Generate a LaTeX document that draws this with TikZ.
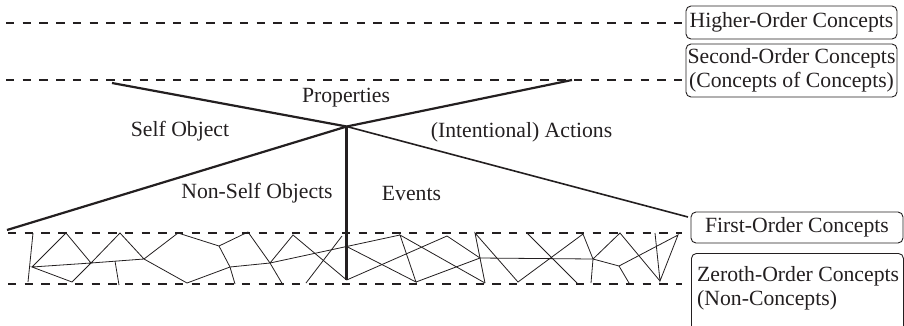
\documentclass[tikz,border=0pt]{standalone}
\usepackage{fontspec}
\setmainfont{Liberation Serif}
\definecolor{ink}{RGB}{35,31,32}
\begin{document}
\begin{tikzpicture}[x=1pt,y=-1pt,
  dashln/.style={draw=ink,line width=1.8pt,dash pattern=on 8.4pt off 8.3pt},
  mainln/.style={draw=ink,line width=2.2pt},
  vertln/.style={draw=ink,line width=2.8pt},
  sideln/.style={draw=ink,line width=1.6pt},
  mesh/.style={draw=ink,line width=0.8pt},
  cbox/.style={draw=ink,line width=0.9pt,rounded corners=5pt,inner sep=0pt},
  lbl/.style={text=ink,font=\fontsize{21.7}{24}\selectfont,inner sep=0pt}]
\useasboundingbox (0,0) rectangle (904,325);
% dashed level lines
\coordinate (d1a) at (6,23);   \coordinate (d1b) at (682,23);
\coordinate (d2a) at (6,80);   \coordinate (d2b) at (682,80);
\coordinate (d3a) at (8,233);  \coordinate (d3b) at (682,233);
\coordinate (d4a) at (8,284);  \coordinate (d4b) at (682,284);
\draw[dashln] (d1a) -- (d1b);
\draw[dashln] (d2a) -- (d2b);
\draw[dashln] (d3a) -- (d3b);
\draw[dashln] (d4a) -- (d4b);
% main structure
\coordinate (apex) at (346.7,126.5);
\coordinate (tl) at (112,83);
\coordinate (tr) at (572,80);
\coordinate (bl) at (7,230);
\coordinate (fo) at (688,217);
\coordinate (p) at (346.7,280);
\draw[mainln] (tl) -- (apex) -- (tr);
\draw[mainln] (bl) -- (apex);
\draw[sideln] (apex) -- (fo);
% mesh points
\coordinate (a1) at (33,233); \coordinate (a2) at (28,282);
\coordinate (b) at (32,267);  \coordinate (c) at (66,233);
\coordinate (d) at (91,263);  \coordinate (e) at (72,282);
\coordinate (f) at (120,233); \coordinate (g) at (144,259);
\coordinate (g1) at (115,261);\coordinate (g2) at (119,285);
\coordinate (h) at (178,233); \coordinate (i) at (187,283);
\coordinate (j) at (219,246); \coordinate (k) at (230,267);
\coordinate (k2) at (235,284);\coordinate (m) at (248,232);
\coordinate (l) at (270,263); \coordinate (n) at (283,285);
\coordinate (o) at (293,235); \coordinate (q) at (400,235);
\coordinate (r) at (346.7,246.5);
\coordinate (w1) at (306,283);\coordinate (w2) at (342,236);
\coordinate (s) at (416,282); \coordinate (u) at (447,236);
\coordinate (t) at (480,258); \coordinate (v) at (475,233);
\coordinate (w) at (485,283); \coordinate (x) at (518,282);
\coordinate (z) at (527,233); \coordinate (z2) at (577,283);
\coordinate (bb) at (583,234);\coordinate (aa) at (593,259);
\coordinate (aa2) at (591,283);\coordinate (ab) at (620,233);
\coordinate (ac) at (619,266);\coordinate (ac2) at (629,283);
\coordinate (ad) at (660,281);\coordinate (ae) at (678,235);
\coordinate (af) at (655,233);
\draw[mesh] (a1) -- (a2);
\draw[mesh] (b) -- (c) -- (d) -- (b) -- (e) -- (d);
\draw[mesh] (d) -- (f) -- (g) -- (d);
\draw[mesh] (g1) -- (g2);
\draw[mesh] (g) -- (h) -- (j) -- (k) -- (k2);
\draw[mesh] (g) -- (i) -- (k) -- (l);
\draw[mesh] (j) -- (m) -- (l) -- (n);
\draw[mesh] (l) -- (o) -- (p);
\draw[mesh] (l) -- (q);
\draw[mesh] (w1) -- (w2);
\draw[mesh] (r) -- (s) -- (q) -- (w);
\draw[mesh] (p) -- (u) -- (t) -- (s);
\draw[mesh] (t) -- (aa);
\draw[mesh] (w) -- (v) -- (x) -- (bb) -- (aa) -- (aa2);
\draw[mesh] (z) -- (z2);
\draw[mesh] (aa) -- (ab) -- (ad);
\draw[mesh] (aa) -- (ac) -- (ac2);
\draw[mesh] (ac) -- (ae) -- (ad) -- (af);
% vertical line
\draw[vertln] (apex) -- (p);
% labels
\node[lbl] (prop) at (346,98) {Properties};
\node[lbl] (self) at (180,131.5) {Self Object};
\node[lbl] (nonself) at (257,193) {Non-Self Objects};
\node[lbl] (events) at (411.5,193) {Events};
\node[lbl] (actions) at (521.5,132.5) {(Intentional) Actions};
% boxes
\node[cbox,lbl,draw=ink,minimum width=211pt,minimum height=33pt] (higher) at (791.5,22.5) {Higher-Order Concepts};
\node[cbox,lbl,draw=ink,minimum width=211pt,minimum height=53pt,align=center] (second) at (791.5,70.5) {Second-Order Concepts\\(Concepts of Concepts)};
\node[cbox,lbl,draw=ink,minimum width=212pt,minimum height=31pt] (first) at (797,227.5) {First-Order Concepts};
\node[cbox,minimum width=212pt,minimum height=85pt,anchor=north west] (zeroth) at (691,253) {};
\node[lbl,anchor=west,align=left] (zerotht) at (697,288.5) {Zeroth-Order Concepts\\(Non-Concepts)};
\end{tikzpicture}
\end{document}
